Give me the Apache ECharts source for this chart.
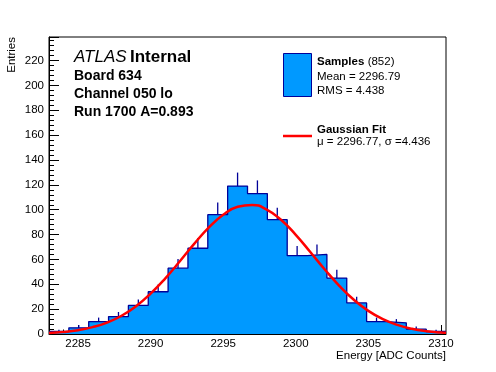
<!DOCTYPE html>
<html>
<head>
<meta charset="utf-8">
<script src="https://cdn.jsdelivr.net/npm/echarts@6/dist/echarts.min.js"></script>
<style>html,body{margin:0;padding:0;background:#fff;}#c{width:496px;height:372px;}</style>
</head>
<body>
<div id="c"></div>
<script>
// ---- data ----
const binStart = 2283.0;
const binWidth = 1.3675;
const counts = [2, 5, 10, 14, 23, 34, 53, 69, 96, 119, 113, 92, 63, 64, 45, 25, 10, 9, 4, 2];
const errors = [1.4, 2.2, 3.2, 3.7, 4.8, 5.8, 7.3, 8.3, 9.8, 10.9, 10.6, 9.6, 7.9, 8.0, 6.7, 5.0, 3.2, 3.0, 2.0, 1.4];
const fitX = [2283, 2284, 2285, 2286, 2287, 2288, 2289, 2290, 2291, 2292, 2293, 2294, 2295, 2296, 2297, 2298, 2299, 2300, 2301, 2302, 2303, 2304, 2305, 2306, 2307, 2308, 2309, 2310, 2310.35];
const fitY = [0.8, 1.65, 3.1, 5.5, 9.2, 14.7, 22.4, 32.5, 44.6, 58.3, 72.5, 85.6, 96.0, 102.4, 103.9, 100.1, 91.7, 79.8, 66.0, 51.9, 38.8, 27.6, 18.6, 11.9, 7.3, 4.2, 2.3, 1.2, 1.0];
const xMajorTicks = [2285, 2290, 2295, 2300, 2305, 2310];
const xMin = 2283.0, xMax = 2310.35;
const yMin = 0, yMax = 239;

// ---- build series data ----
const stepData = counts.map((c, i) => [binStart + i * binWidth, c]);
stepData.push([binStart + counts.length * binWidth, counts[counts.length - 1]]);
const errData = counts.map((c, i) => [binStart + (i + 0.5) * binWidth, c, c + errors[i]]);
const fitData = fitX.map((x, i) => [x, fitY[i]]);
const xMinorTicks = [];
for (let v = Math.ceil(xMin); v <= xMax; v++) xMinorTicks.push(v);

const FONT = 'Liberation Sans, Arial, Helvetica, sans-serif';
const chart = echarts.init(document.getElementById('c'), null, {renderer: 'canvas'});
chart.setOption({
  animation: false,
  backgroundColor: '#fff',
  grid: {left: 49, top: 37, width: 397, height: 297, show: true, borderColor: '#000', borderWidth: 1, backgroundColor: 'transparent'},
  xAxis: [{
    type: 'value', min: xMin, max: xMax,
    axisLine: {show: true, onZero: false, lineStyle: {color: '#000', width: 1}},
    axisTick: {show: true, inside: true, length: 9, customValues: xMajorTicks, lineStyle: {color: '#000'}},
    axisLabel: {show: true, customValues: xMajorTicks, color: '#000', fontSize: 11.5, fontFamily: FONT, margin: 4, formatter: v => String(v)},
    splitLine: {show: false}
  }, {
    type: 'value', min: xMin, max: xMax, position: 'bottom',
    axisLine: {show: false},
    axisTick: {show: true, inside: true, length: 4.5, customValues: xMinorTicks, lineStyle: {color: '#000'}},
    axisLabel: {show: false},
    splitLine: {show: false}
  }],
  yAxis: {
    type: 'value', min: yMin, max: yMax, interval: 20,
    axisLine: {show: true, lineStyle: {color: '#000'}},
    axisTick: {show: true, inside: true, length: 10, lineStyle: {color: '#000'}},
    minorTick: {show: true, splitNumber: 5, length: 5, lineStyle: {color: '#000'}},
    axisLabel: {color: '#000', fontSize: 11.5, fontFamily: FONT, margin: 5, showMaxLabel: false},
    splitLine: {show: false}
  },
  series: [{
    type: 'line', step: 'end', data: stepData, symbol: 'none', xAxisIndex: 0,
    lineStyle: {color: '#000099', width: 1.3},
    areaStyle: {color: '#0099ff', opacity: 1},
    z: 2
  }, {
    type: 'custom', data: errData, xAxisIndex: 0,
    renderItem: function (params, api) {
      const p0 = api.coord([api.value(0), api.value(1)]);
      const p1 = api.coord([api.value(0), api.value(2)]);
      return {type: 'line', shape: {x1: p0[0], y1: p0[1], x2: p1[0], y2: p1[1]}, style: {stroke: '#000099', lineWidth: 1.3}};
    },
    z: 3
  }, {
    type: 'line', data: fitData, symbol: 'none', smooth: true, xAxisIndex: 0,
    lineStyle: {color: '#ff0000', width: 2.5},
    z: 4
  }],
  graphic: [
    {type: 'text', x: 12, y: 37, rotation: Math.PI / 2, style: {text: 'Entries', font: '11.5px ' + FONT, fill: '#000', textAlign: 'right', textVerticalAlign: 'middle'}},
    {type: 'text', x: 446, y: 356, style: {text: 'Energy [ADC Counts]', font: '11.5px ' + FONT, fill: '#000', textAlign: 'right', textVerticalAlign: 'middle'}},
    {type: 'text', x: 74, y: 57, style: {text: '{i|ATLAS} {b|Internal}', textVerticalAlign: 'middle', rich: {i: {fontStyle: 'italic', fontSize: 17, fontFamily: FONT, fill: '#000'}, b: {fontWeight: 'bold', fontSize: 17, fontFamily: FONT, fill: '#000'}}}},
    {type: 'text', x: 74, y: 76, style: {text: 'Board 634', font: 'bold 14px ' + FONT, fill: '#000', textVerticalAlign: 'middle'}},
    {type: 'text', x: 74, y: 94.5, style: {text: 'Channel 050 lo', font: 'bold 14px ' + FONT, fill: '#000', textVerticalAlign: 'middle'}},
    {type: 'text', x: 74, y: 112.5, style: {text: 'Run 1700 A=0.893', font: 'bold 14px ' + FONT, fill: '#000', textVerticalAlign: 'middle'}},
    {type: 'rect', shape: {x: 283.5, y: 53.5, width: 28, height: 43}, style: {fill: '#0099ff', stroke: '#000099', lineWidth: 1}},
    {type: 'text', x: 317, y: 62, style: {text: '{b|Samples} {n|(852)}', textVerticalAlign: 'middle', rich: {b: {fontWeight: 'bold', fontSize: 11.5, fontFamily: FONT, fill: '#000'}, n: {fontSize: 11.5, fontFamily: FONT, fill: '#000'}}}},
    {type: 'text', x: 317, y: 77, style: {text: 'Mean = 2296.79', font: '11.5px ' + FONT, fill: '#000', textVerticalAlign: 'middle'}},
    {type: 'text', x: 317, y: 90.5, style: {text: 'RMS = 4.438', font: '11.5px ' + FONT, fill: '#000', textVerticalAlign: 'middle'}},
    {type: 'line', shape: {x1: 283, y1: 136, x2: 312, y2: 136}, style: {stroke: '#ff0000', lineWidth: 2.5}},
    {type: 'text', x: 317, y: 129.5, style: {text: 'Gaussian Fit', font: 'bold 11.5px ' + FONT, fill: '#000', textVerticalAlign: 'middle'}},
    {type: 'text', x: 317, y: 142, style: {text: 'μ = 2296.77, σ =4.436', font: '11.5px ' + FONT, fill: '#000', textVerticalAlign: 'middle'}}
  ]
});
</script>
</body>
</html>
